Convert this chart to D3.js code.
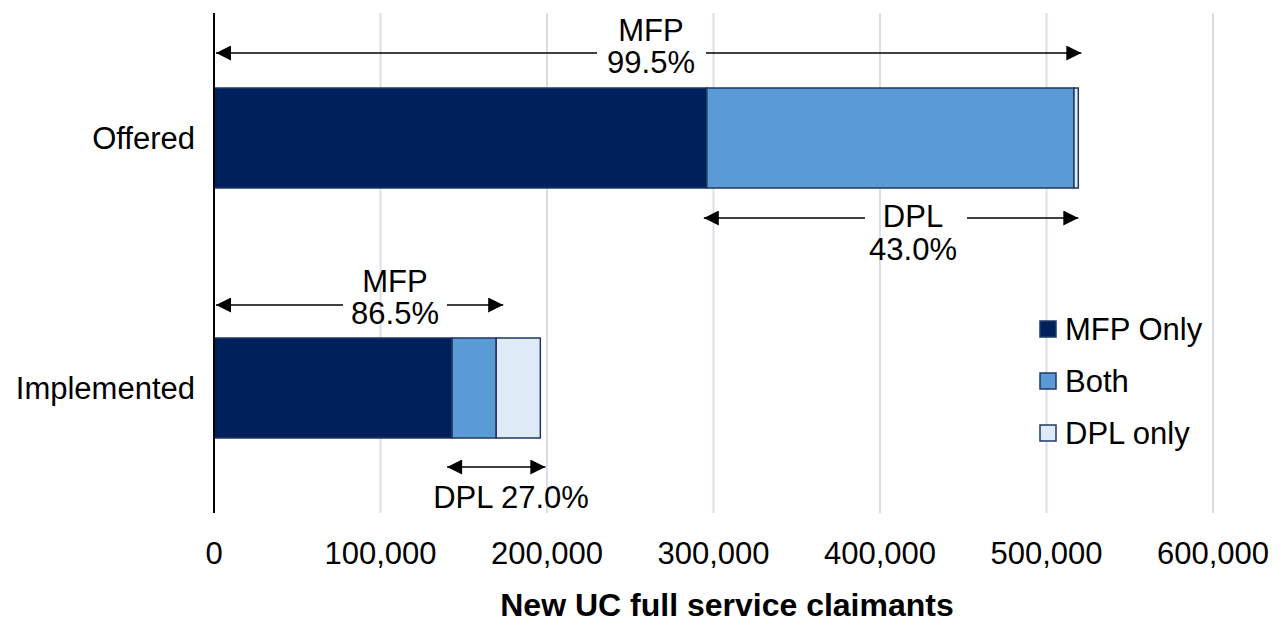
<!DOCTYPE html>
<html>
<head>
<meta charset="utf-8">
<script src="https://cdn.jsdelivr.net/npm/d3@7"></script>
<style>
  body { margin: 0; background: #fff; }
  text { font-family: "Liberation Sans", Arial, sans-serif; fill: #000; }
</style>
</head>
<body>
<div class="canvas"></div>
<script>
const [width, height] = [1284, 623];

// data
const categories = ['Offered', 'Implemented'];
const seriesNames = ['MFP Only', 'Both', 'DPL only'];
const mfpOnly = [296000, 143000];
const both = [220500, 26500];
const dplOnly = [2600, 26500];
const mfpPct = ['99.5%', '86.5%'];
const dplPct = ['43.0%', '27.0%'];
const xTicks = [0, 100000, 200000, 300000, 400000, 500000, 600000];

const colors = ['#00205b', '#5b9bd5', '#deebf7'];
const fs = 31;

const svg = d3.select('.canvas')
  .append('svg')
  .attr('width', width)
  .attr('height', height);

const x = d3.scaleLinear().domain([0, 600000]).range([214, 1213]);
const y = d3.scaleBand().domain(categories).range([13, 513]).paddingInner(0.6).paddingOuter(0.3);

// gridlines
svg.selectAll('line.grid')
  .data(xTicks.slice(1))
  .enter()
  .append('line')
  .attr('x1', d => x(d)).attr('x2', d => x(d))
  .attr('y1', 13).attr('y2', 513)
  .attr('stroke', '#d9dee8')
  .attr('stroke-width', 2);

// stacked bars
const rows = categories.map((c, i) => ({ cat: c, 'MFP Only': mfpOnly[i], 'Both': both[i], 'DPL only': dplOnly[i] }));
const stack = d3.stack().keys(seriesNames)(rows);

svg.selectAll('g.series')
  .data(stack)
  .enter()
  .append('g')
  .attr('fill', (d, i) => colors[i])
  .selectAll('rect')
  .data(d => d)
  .enter()
  .append('rect')
  .attr('x', d => x(d[0]))
  .attr('width', d => x(d[1]) - x(d[0]))
  .attr('y', d => y(d.data.cat))
  .attr('height', y.bandwidth())
  .attr('stroke', '#1f3864')
  .attr('stroke-width', 1.5);

// y axis line
svg.append('line')
  .attr('x1', 214).attr('x2', 214)
  .attr('y1', 13).attr('y2', 513)
  .attr('stroke', '#000').attr('stroke-width', 2);

// category labels
svg.selectAll('text.cat')
  .data(categories)
  .enter()
  .append('text')
  .attr('x', 195)
  .attr('y', d => y(d) + y.bandwidth() / 2)
  .attr('dy', '0.35em')
  .attr('text-anchor', 'end')
  .attr('font-size', fs)
  .text(d => d);

// x tick labels
const fmt = d3.format(',');
svg.selectAll('text.tick')
  .data(xTicks)
  .enter()
  .append('text')
  .attr('x', d => x(d))
  .attr('y', 564)
  .attr('text-anchor', 'middle')
  .attr('font-size', fs)
  .text(d => fmt(d));

svg.append('text')
  .attr('x', 727)
  .attr('y', 616)
  .attr('text-anchor', 'middle')
  .attr('font-size', 32)
  .attr('font-weight', 'bold')
  .text('New UC full service claimants');

// arrows
const defs = svg.append('defs');
defs.append('marker')
  .attr('id', 'head')
  .attr('viewBox', '0 0 10 10')
  .attr('refX', 10).attr('refY', 5)
  .attr('markerWidth', 17).attr('markerHeight', 15)
  .attr('markerUnits', 'userSpaceOnUse')
  .attr('orient', 'auto-start-reverse')
  .append('path')
  .attr('d', 'M0,0 L10,5 L0,10 Z')
  .attr('fill', '#000');

function arrow(x0, x1, yy, gapL, gapR) {
  if (gapL == null) {
    svg.append('line')
      .attr('x1', x0).attr('x2', x1)
      .attr('y1', yy).attr('y2', yy)
      .attr('stroke', '#000').attr('stroke-width', 1.3)
      .attr('marker-start', 'url(#head)')
      .attr('marker-end', 'url(#head)');
    return;
  }
  // two segments with a gap for the label
  svg.append('line')
    .attr('x1', gapL).attr('x2', x0)
    .attr('y1', yy).attr('y2', yy)
    .attr('stroke', '#000').attr('stroke-width', 1.3)
    .attr('marker-end', 'url(#head)');
  svg.append('line')
    .attr('x1', gapR).attr('x2', x1)
    .attr('y1', yy).attr('y2', yy)
    .attr('stroke', '#000').attr('stroke-width', 1.3)
    .attr('marker-end', 'url(#head)');
}

function label(cx, yy, t) {
  svg.append('text')
    .attr('x', cx).attr('y', yy)
    .attr('text-anchor', 'middle')
    .attr('font-size', fs)
    .text(t);
}

// Offered
const offTot = mfpOnly[0] + both[0] + dplOnly[0];
const offTop = y('Offered');
const offBot = offTop + y.bandwidth();
arrow(x(0) + 2, x(offTot) + 3, offTop - 35, 597, 706);
label(651, offTop - 47, 'MFP');
label(651, offTop - 15, mfpPct[0]);
arrow(x(mfpOnly[0]) - 3, x(offTot), offBot + 30, 865, 967);
label(913, offBot + 39, 'DPL');
label(913, offBot + 72, dplPct[0]);

// Implemented
const impTop = y('Implemented');
const impBot = impTop + y.bandwidth();
const impMfp = mfpOnly[1] + both[1];
const impTot = impMfp + dplOnly[1];
arrow(x(0) + 2, x(impMfp) + 7, impTop - 33, 343, 447);
label(395, impTop - 46, 'MFP');
label(395, impTop - 14, mfpPct[1]);
arrow(x(mfpOnly[1]) - 5, x(impTot) + 5, impBot + 29);
label(511, impBot + 70, 'DPL ' + dplPct[1]);

// legend
const leg = svg.selectAll('g.legend')
  .data(seriesNames)
  .enter()
  .append('g')
  .attr('transform', (d, i) => `translate(1040, ${321 + i * 52})`);
leg.append('rect')
  .attr('width', 16).attr('height', 16)
  .attr('fill', (d, i) => colors[i])
  .attr('stroke', '#1f3864').attr('stroke-width', 1.5);
leg.append('text')
  .attr('x', 25).attr('y', 8)
  .attr('dy', '0.35em')
  .attr('font-size', fs)
  .text(d => d);
</script>
</body>
</html>
